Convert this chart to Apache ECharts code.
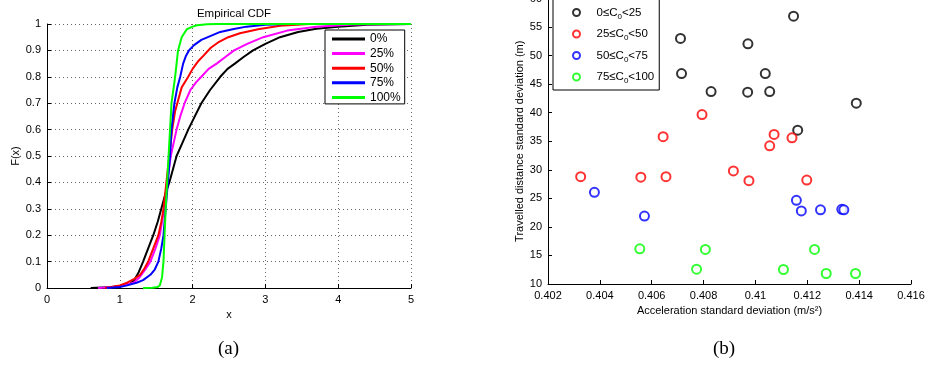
<!DOCTYPE html>
<html><head><meta charset="utf-8">
<script src="https://cdn.jsdelivr.net/npm/echarts@6/dist/echarts.min.js"></script>
<style>html,body{margin:0;padding:0;background:#fff}#c{width:928px;height:368px}</style>
</head><body><div id="c"></div>
<script>
// ---- Left panel: empirical CDF curves ----
const cdfNames = ['0%', '25%', '50%', '75%', '100%'];
const cdfColors = ['#000000', '#ff00ff', '#ff0000', '#0000ff', '#00ff00'];
const x0 = [0.6,0.9,1.0,1.1,1.14,1.2,1.26,1.32,1.39,1.46,1.52,1.57,1.63,1.68,1.73,1.78,1.86,1.94,2.03,2.12,2.24,2.38,2.48,2.58,2.7,2.83,3.0,3.2,3.45,3.7,4.0,4.4,5];
const f0 = [0,0.004,0.008,0.013,0.016,0.03,0.06,0.1,0.15,0.2,0.25,0.3,0.36,0.4,0.45,0.5,0.55,0.6,0.65,0.7,0.75,0.8,0.83,0.85,0.875,0.9,0.925,0.95,0.97,0.982,0.99,0.997,1];
const x25 = [0.7,0.9,1.0,1.1,1.19,1.27,1.35,1.42,1.49,1.55,1.61,1.65,1.70,1.74,1.78,1.83,1.89,1.97,2.05,2.12,2.22,2.33,2.45,2.57,2.75,2.97,3.3,3.7,4.2,5];
const f25 = [0,0.004,0.008,0.013,0.02,0.04,0.07,0.1,0.15,0.2,0.3,0.4,0.5,0.55,0.6,0.65,0.7,0.75,0.78,0.8,0.83,0.85,0.875,0.9,0.925,0.95,0.975,0.99,0.998,1];
const x50 = [0.8,1.0,1.1,1.2,1.28,1.34,1.39,1.46,1.53,1.57,1.60,1.64,1.68,1.72,1.76,1.79,1.85,1.94,2.0,2.08,2.15,2.25,2.35,2.49,2.65,2.9,3.2,3.6,5];
const f50 = [0,0.01,0.02,0.035,0.05,0.075,0.1,0.15,0.2,0.25,0.3,0.4,0.5,0.6,0.67,0.7,0.76,0.8,0.83,0.86,0.88,0.91,0.93,0.95,0.965,0.98,0.993,1,1];
const x75 = [0.82,1.0,1.1,1.23,1.32,1.42,1.48,1.53,1.57,1.60,1.63,1.66,1.69,1.71,1.75,1.79,1.83,1.87,1.91,1.95,2.02,2.12,2.25,2.38,2.55,2.74,3.0,3.3,5];
const f75 = [0,0.004,0.01,0.02,0.03,0.05,0.07,0.1,0.15,0.2,0.3,0.4,0.5,0.6,0.7,0.76,0.8,0.85,0.88,0.9,0.92,0.94,0.955,0.97,0.98,0.99,0.997,1,1];
const x100 = [1.32,1.45,1.52,1.55,1.58,1.60,1.63,1.67,1.71,1.76,1.80,1.85,1.92,2.0,2.06,2.2,2.33,5];
const f100 = [0,0.001,0.004,0.01,0.04,0.1,0.3,0.5,0.7,0.8,0.9,0.95,0.98,0.99,0.995,0.999,1,1];
const cdfX = [x0, x25, x50, x75, x100];
const cdfF = [f0, f25, f50, f75, f100];

// ---- Right panel: scatter groups ----
const grpNames = ['0≤C0<25', '25≤C0<50', '50≤C0<75', '75≤C0<100'];
const grpColors = ['#000000', '#ff0000', '#0000ff', '#00ff00'];
const accBlack = [0.41147,0.40711,0.40971,0.40715,0.41038,0.40829,0.4097,0.41055,0.41389,0.41163];
const distBlack = [56.9,53.0,52.07,46.86,46.86,43.7,43.6,43.7,41.67,36.93];
const accRed = [0.40794,0.40644,0.41072,0.41141,0.41055,0.40326,0.40558,0.40655,0.40915,0.40975,0.41198];
const distRed = [39.67,35.8,36.2,35.6,34.2,28.8,28.7,28.8,29.8,28.1,28.2];
const accBlue = [0.40379,0.40572,0.41158,0.41177,0.41251,0.41333,0.41341];
const distBlue = [26.05,21.9,24.65,22.8,23.0,23.07,23.0];
const accGreen = [0.40554,0.40807,0.40773,0.41108,0.41228,0.41273,0.41386];
const distGreen = [16.16,16.05,12.6,12.54,16.05,11.84,11.84];
const grpAcc = [accBlack, accRed, accBlue, accGreen];
const grpDist = [distBlack, distRed, distBlue, distGreen];

const FONT = 'Liberation Sans';
const axisCommon = {
  axisLine: {show: true, lineStyle: {color: '#000', width: 1}},
  axisTick: {show: true, inside: true, length: 4, lineStyle: {color: '#000'}},
  axisLabel: {color: '#000', fontFamily: FONT, fontSize: 11, margin: 6},
  nameTextStyle: {color: '#000', fontFamily: FONT, fontSize: 11},
  nameLocation: 'middle'
};
const dotted = {show: true, lineStyle: {color: '#666', type: [1, 3], width: 1}};

const series = [];
cdfNames.forEach((n, i) => {
  series.push({
    name: n, type: 'line', xAxisIndex: 0, yAxisIndex: 0, symbol: 'none',
    lineStyle: {color: cdfColors[i], width: 2}, itemStyle: {color: cdfColors[i]},
    data: cdfX[i].map((x, k) => [x, cdfF[i][k]]), z: 3 + i, animation: false
  });
});
grpNames.forEach((n, i) => {
  series.push({
    name: n, type: 'scatter', xAxisIndex: 1, yAxisIndex: 1, symbol: 'emptyCircle', symbolSize: 9,
    itemStyle: {color: grpColors[i], borderColor: grpColors[i], borderWidth: 2.2},
    data: grpAcc[i].map((x, k) => [x, grpDist[i][k]]), animation: false
  });
});

const chart = echarts.init(document.getElementById('c'), null, {renderer: 'canvas'});
chart.setOption({
  backgroundColor: '#fff',
  animation: false,
  title: {text: 'Empirical CDF', left: 229, top: 3, textAlign: 'center',
    textStyle: {fontFamily: FONT, fontSize: 11.5, fontWeight: 'normal', color: '#000'}},
  grid: [
    {left: 47, top: 24, width: 364, height: 264, outerBoundsMode: 'none', containLabel: false},
    {left: 548, top: -1.5, width: 363, height: 285.5, outerBoundsMode: 'none', containLabel: false}
  ],
  xAxis: [
    Object.assign({}, axisCommon, {gridIndex: 0, type: 'value', min: 0, max: 5, interval: 1,
      name: 'x', nameGap: 19, splitLine: dotted}),
    Object.assign({}, axisCommon, {gridIndex: 1, type: 'value', min: 0.402, max: 0.416, interval: 0.002,
      name: 'Acceleration standard deviation (m/s²)', nameGap: 20, splitLine: {show: false},
      axisLabel: Object.assign({}, axisCommon.axisLabel, {formatter: v => String(+v.toFixed(3))})})
  ],
  yAxis: [
    Object.assign({}, axisCommon, {gridIndex: 0, type: 'value', min: 0, max: 1, interval: 0.1,
      name: 'F(x)', nameGap: 24, splitLine: dotted,
      axisLabel: Object.assign({}, axisCommon.axisLabel, {formatter: v => String(+v.toFixed(1))})}),
    Object.assign({}, axisCommon, {gridIndex: 1, type: 'value', min: 10, max: 60, interval: 5,
      name: 'Travelled distance standard deviation (m)', nameGap: 20, splitLine: {show: false}})
  ],
  legend: [
    {data: cdfNames, orient: 'vertical', left: 325, top: 30, align: 'left',
      backgroundColor: '#fff', borderColor: '#000', borderWidth: 1, padding: [2.5, 4, 0, 7],
      itemWidth: 33, itemHeight: 3, itemGap: 1.6, icon: 'rect',
      textStyle: {fontFamily: FONT, fontSize: 12, color: '#000', lineHeight: 13}},
    {data: grpNames, orient: 'vertical', left: 553, top: -1, align: 'left',
      backgroundColor: '#fff', borderColor: '#000', borderWidth: 1, padding: [5.5, 5, 5, 19],
      itemWidth: 30, itemHeight: 7, itemGap: 5.5,
      itemStyle: {borderWidth: 1},
      formatter: n => n.replace('C0', 'C{s|0}'),
      textStyle: {fontFamily: FONT, fontSize: 11.5, color: '#000', lineHeight: 16,
        rich: {s: {fontFamily: FONT, fontSize: 8, color: '#000', lineHeight: 8, verticalAlign: 'bottom'}}}}
  ],
  graphic: [
    {type: 'text', left: 218, top: 340, style: {text: '(a)', fontFamily: 'Liberation Serif', fontSize: 19, fill: '#000'}},
    {type: 'text', left: 713, top: 340, style: {text: '(b)', fontFamily: 'Liberation Serif', fontSize: 19, fill: '#000'}}
  ],
  series: series
});
</script></body></html>
